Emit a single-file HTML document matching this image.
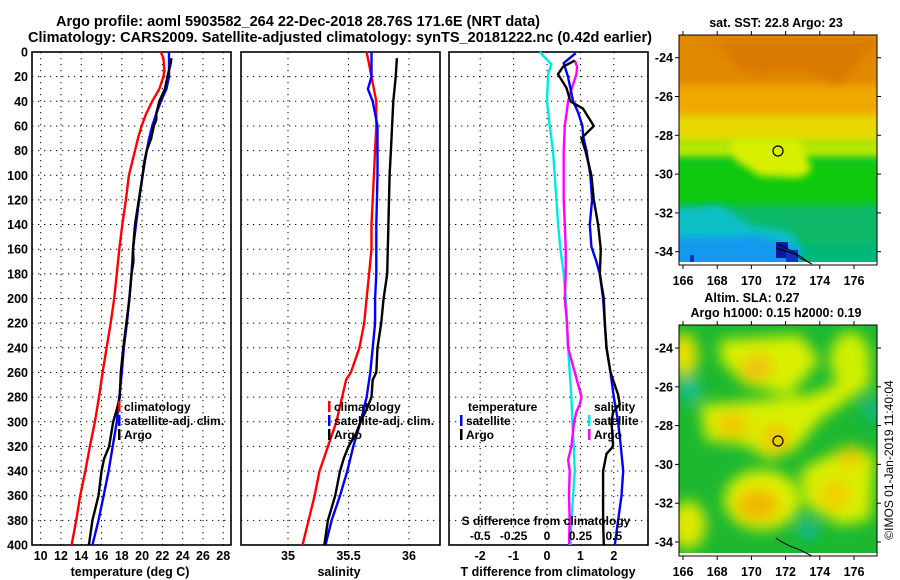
<!DOCTYPE html>
<html><head><meta charset="utf-8">
<style>
html,body{margin:0;padding:0;background:#fff;}
svg{display:block;font-family:"Liberation Sans",sans-serif;font-weight:bold;}
</style></head>
<body>
<svg id="fig" width="900" height="580" viewBox="0 0 900 580" xmlns="http://www.w3.org/2000/svg">
<defs>
<filter id="blur6" x="-30%" y="-30%" width="160%" height="160%"><feGaussianBlur stdDeviation="7"/></filter>
<filter id="blur3" x="-10%" y="-30%" width="120%" height="160%"><feGaussianBlur stdDeviation="4"/></filter>
<clipPath id="clipTop"><rect x="679" y="35" width="198" height="230"/></clipPath>
<clipPath id="clipBot"><rect x="679" y="325" width="198" height="231"/></clipPath>
</defs>
<text x="56" y="26" font-size="14.5" textLength="484" lengthAdjust="spacingAndGlyphs">Argo profile: aoml 5903582_264 22-Dec-2018 28.76S 171.6E (NRT data)</text>
<text x="28" y="42" font-size="14.5" textLength="624" lengthAdjust="spacingAndGlyphs">Climatology: CARS2009. Satellite-adjusted climatology: synTS_20181222.nc (0.42d earlier)</text>

<!-- top map -->
<g clip-path="url(#clipTop)">
  <rect x="679" y="35" width="198" height="230" fill="#00b878"/>
  <rect x="660" y="20" width="240" height="80" fill="#e08a00"/>
  <rect x="660" y="85" width="240" height="40" fill="#f0a800" filter="url(#blur3)"/>
  <rect x="660" y="115" width="240" height="30" fill="#e8d800" filter="url(#blur3)"/>
  <rect x="660" y="140" width="240" height="20" fill="#b8e800" filter="url(#blur3)"/>
  <rect x="660" y="158" width="240" height="55" fill="#10c810" filter="url(#blur3)"/>
  <path d="M730,140 L800,140 L812,170 L800,178 L760,176 L735,160 Z" fill="#d8f000" filter="url(#blur3)"/>
  <rect x="660" y="205" width="240" height="40" fill="#08b868" filter="url(#blur3)"/>
  <path d="M670,210 L720,205 L750,225 L790,232 L800,245 L800,275 L670,275 Z" fill="#10c0c8" filter="url(#blur3)"/>
  <path d="M670,238 L760,236 L800,248 L800,275 L670,275 Z" fill="#1898f0" filter="url(#blur3)"/>
  <path d="M690,40 L720,45 L740,70 L760,75 L800,70 L840,85 L860,60 L880,40 Z" fill="#d87000" opacity="0.6" filter="url(#blur3)"/>
  <rect x="776" y="242" width="12" height="16" fill="#0818a0"/>
  <rect x="786" y="250" width="12" height="12" fill="#1030c0"/>
  <rect x="690" y="255" width="4" height="8" fill="#1030c0"/>
  <rect x="679" y="262" width="198" height="3" fill="#fff"/>
  <path d="M776,248 C785,252 795,252 800,258 L812,264" fill="none" stroke="#000" stroke-width="1"/>
  <path d="M778,244 C790,250 800,255 808,262" fill="none" stroke="#000" stroke-width="0.8"/>
</g>
<circle cx="778" cy="151" r="5" fill="none" stroke="#000" stroke-width="1.2"/>
<rect x="679" y="35" width="198" height="230" fill="none" stroke="#000" stroke-width="1"/>
<text x="776" y="27" font-size="12.5" text-anchor="middle">sat. SST: 22.8 Argo: 23</text>

<!-- bottom map -->
<g clip-path="url(#clipBot)">
  <rect x="679" y="325" width="198" height="231" fill="#1cb830"/>
  <g filter="url(#blur6)">
    <path d="M720,340 L800,335 L820,360 L790,395 L745,385 L720,360 Z" fill="#d8f000"/>
    <ellipse cx="757" cy="368" rx="16" ry="13" fill="#f0c010"/>
    <ellipse cx="684" cy="355" rx="14" ry="22" fill="#e8e000"/>
    <path d="M700,405 L760,400 L810,395 L845,380 L870,360 L870,385 L820,420 L795,450 L770,460 L745,445 L705,440 Z" fill="#d8f000"/>
    <ellipse cx="733" cy="425" rx="18" ry="12" fill="#f0c800"/>
    <ellipse cx="776" cy="438" rx="15" ry="15" fill="#f0c800"/>
    <ellipse cx="762" cy="500" rx="38" ry="30" fill="#e0f000"/>
    <ellipse cx="758" cy="505" rx="22" ry="16" fill="#f0b800"/>
    <path d="M800,470 L850,445 L875,455 L870,520 L840,525 L805,505 Z" fill="#d8f000"/>
    <ellipse cx="850" cy="458" rx="13" ry="10" fill="#f0c800"/>
    <ellipse cx="835" cy="495" rx="16" ry="16" fill="#f0d000"/>
    <ellipse cx="850" cy="360" rx="20" ry="28" fill="#d0f000"/>
    <ellipse cx="688" cy="525" rx="18" ry="24" fill="#e0e800"/>
    <ellipse cx="690" cy="390" rx="10" ry="12" fill="#10c0a0"/>
    <ellipse cx="808" cy="530" rx="10" ry="10" fill="#10b8a0"/>
    <ellipse cx="872" cy="410" rx="8" ry="14" fill="#10b890"/>
  </g>
  <rect x="679" y="553" width="198" height="3" fill="#fff"/>
  <path d="M776,538 C785,545 795,548 800,550 L812,556" fill="none" stroke="#000" stroke-width="1"/>
</g>
<circle cx="778" cy="441" r="5" fill="none" stroke="#000" stroke-width="1.2"/>
<rect x="679" y="325" width="198" height="231" fill="none" stroke="#000" stroke-width="1"/>
<text x="752" y="302" font-size="12.5" text-anchor="middle">Altim. SLA: 0.27</text>
<text x="776" y="317" font-size="12.5" text-anchor="middle">Argo h1000: 0.15 h2000: 0.19</text>
<text x="0" y="0" font-size="12" font-weight="normal" text-anchor="middle" transform="translate(893,460) rotate(-90)">©IMOS 01-Jan-2019 11:40:04</text>
<g id="plots"></g>
</svg>
<script>
// ---------- data ----------
const depthTicks = [0,20,40,60,80,100,120,140,160,180,200,220,240,260,280,300,320,340,360,380,400];
const tempTicks = [10,12,14,16,18,20,22,24,26,28];
const salTicks = [35,35.5,36];
const tdiffTicks = [-2,-1,0,1,2];
const sdiffTicks = [-0.5,-0.25,0,0.25,0.5];
const lonTicks = [166,168,170,172,174,176];
const latTicks = [-24,-26,-28,-30,-32,-34];

const climTDepth = [0,5,15,20,30,40,50,60,70,80,90,100,120,140,160,180,200,220,240,260,280,300,320,340,360,380,400];
const climT = [21.83,22.1,22.2,22.1,21.7,21.0,20.4,19.95,19.6,19.3,19.0,18.7,18.4,18.05,17.75,17.5,17.25,16.9,16.5,16.1,15.75,15.35,14.85,14.4,13.9,13.5,13.05];
const satTDepth = [0,20,30,40,50,60,70,80,100,120,140,160,180,200,220,240,260,280,300,320,340,360,380,400];
const satT = [22.65,22.65,22.4,21.85,21.4,21.0,20.7,20.45,20.05,19.7,19.4,19.1,18.95,18.75,18.5,18.2,18.0,17.75,17.5,17.1,16.7,16.2,15.7,15.1];
const argoTDepth = [5,10,20,30,40,50,55,60,70,80,90,100,140,160,170,180,200,240,260,280,290,300,320,330,340,360,380,400];
const argoT = [22.9,22.8,22.5,22.25,21.7,21.4,21.4,21.15,20.9,20.45,20.2,20.05,19.3,19.1,19.15,18.95,18.75,18.15,17.9,17.8,17.5,17.15,16.75,16.25,16.0,15.7,15.1,14.75];

const climSDepth = [0,10,20,40,60,80,100,120,140,160,180,200,220,240,260,266,300,340,360,380,400];
const climS = [35.65,35.67,35.69,35.73,35.73,35.72,35.71,35.70,35.69,35.69,35.67,35.65,35.63,35.59,35.52,35.48,35.40,35.26,35.22,35.17,35.12];
const satSDepth = [0,20,30,40,60,100,140,180,200,220,240,260,280,300,320,340,360,380,400];
const satS = [35.69,35.69,35.66,35.70,35.74,35.74,35.73,35.73,35.72,35.72,35.70,35.68,35.65,35.60,35.54,35.49,35.43,35.36,35.31];
const argoSDepth = [5,20,40,60,80,100,140,180,200,220,240,260,266,280,290,300,310,320,330,340,360,380,400];
const argoS = [35.90,35.89,35.87,35.86,35.85,35.84,35.83,35.82,35.79,35.77,35.74,35.73,35.70,35.69,35.65,35.60,35.56,35.50,35.46,35.43,35.39,35.33,35.30];

const dSatTDepth = [1,9,20,40,49,60,68,80,100,120,140,158,170,180,200,220,240,260,280,300,320,340,360,380,400];
const dSatT = [0.86,0.5,0.63,0.78,0.93,1.06,1.08,1.18,1.3,1.35,1.28,1.33,1.48,1.58,1.68,1.73,1.78,1.9,2.0,2.13,2.21,2.28,2.23,2.13,2.03];
const dArgoTDepth = [7,12,18,29,40,46,60,70,80,100,120,140,160,180,200,220,240,260,278,286,292,300,320,326,340,360,380,400];
const dArgoT = [0.83,0.48,0.33,0.58,0.7,1.08,1.4,1.03,1.15,1.33,1.4,1.53,1.61,1.58,1.7,1.73,1.78,1.9,2.13,2.18,1.98,1.93,1.98,1.78,1.68,1.68,1.68,1.7];
const dSatSDepth = [0,10,18,40,60,80,100,120,140,160,180,200,220,240,260,280,300,320,340,360,380,400];
const dSatS = [-0.055,0.033,0.008,0,0.02,0.045,0.058,0.07,0.083,0.1,0.125,0.14,0.15,0.158,0.17,0.183,0.19,0.2,0.208,0.195,0.183,0.175];
const dArgoSDepth = [7,12,18,32,40,60,80,100,120,140,160,180,200,220,240,260,280,286,292,300,320,331,340,360,380,400];
const dArgoS = [0.208,0.225,0.22,0.178,0.158,0.133,0.125,0.125,0.125,0.133,0.14,0.14,0.133,0.15,0.158,0.208,0.258,0.245,0.22,0.203,0.183,0.158,0.17,0.165,0.17,0.165];

// ---------- geometry ----------
const NS='http://www.w3.org/2000/svg';
const root=document.getElementById('plots');
const Y0=52, Y1=545;
function yD(d){return Y0+(Y1-Y0)*d/400;}
const P1={x0:32,x1:231}, P2={x0:241,x1:440}, P3={x0:449,x1:648};
function xT(t){return 40.7+(t-10)*10.14;}
function xS(s){return 288+(s-35)*121;}
function xDT(t){return 547+t*33.4;}
function xDS(s){return xDT(s*4);}
function mk(tag,attrs,parent){const e=document.createElementNS(NS,tag);for(const k in attrs)e.setAttribute(k,attrs[k]);(parent||root).appendChild(e);return e;}
function txt(s,x,y,size,anchor,parent){const t=mk('text',{x:x,y:y,'font-size':size,'text-anchor':anchor||'middle'},parent);t.textContent=s;return t;}

function panel(P,name,xs,ticks,xf,labFn){
  const g=mk('g',{});
  
  
  depthTicks.slice(1,-1).forEach(d=>{
    const l=mk('line',{x1:P.x0,x2:P.x1,y1:yD(d),y2:yD(d),stroke:'#000','stroke-width':1,'stroke-dasharray':'1.3,4.7'},g);
    
    
  });
  ticks.forEach(v=>{
    const x=xf(v);
    const l=mk('line',{x1:x,x2:x,y1:Y0,y2:Y1,stroke:'#000','stroke-width':1,'stroke-dasharray':'1.3,4.7'},g);
    
    
    const t=txt(labFn?labFn(v):String(v),x,560,12.5,'middle',g);
    
    
  });
  const f=mk('rect',{x:P.x0,y:Y0,width:P.x1-P.x0,height:Y1-Y0,fill:'none',stroke:'#000','stroke-width':1.6},g);
  
  
  return g;
}
function series(name,depths,vals,xf,color,g){
  const pts=depths.map((d,i)=>xf(vals[i]).toFixed(1)+','+yD(d).toFixed(1)).join(' ');
  const p=mk('polyline',{points:pts,fill:'none',stroke:color,'stroke-width':2.4,'stroke-linejoin':'round'},g);
  
  
}
function legendEntry(name,x,y,color,label,g){
  const r=mk('rect',{x:x,y:y-10,width:2.5,height:11,fill:color},g);
  
  
  const t=txt(label,x+6,y,12,'start',g);
  
  
}

depthTicks.forEach(d=>{
  const t=txt(String(d),28,yD(d)+4.5,12.5,'end');
  
  
});

const g1=panel(P1,'temperature-panel',null,tempTicks,xT);
series('temp-climatology-line',climTDepth,climT,xT,'#ff0000',g1);
series('temp-satellite-line',satTDepth,satT,xT,'#0000ff',g1);
series('temp-argo-line',argoTDepth,argoT,xT,'#000000',g1);
legendEntry('legend-climatology',118,411,'#ff0000','climatology',g1);
legendEntry('legend-satellite-adj',118,425,'#0000ff','satellite-adj. clim.',g1);
legendEntry('legend-argo',118,439,'#000000','Argo',g1);
let t1=txt('temperature (deg C)',130,576,12.5);



const g2=panel(P2,'salinity-panel',null,salTicks,xS);
series('sal-climatology-line',climSDepth,climS,xS,'#ff0000',g2);
series('sal-satellite-line',satSDepth,satS,xS,'#0000ff',g2);
series('sal-argo-line',argoSDepth,argoS,xS,'#000000',g2);
legendEntry('legend-sal-climatology',328,411,'#ff0000','climatology',g2);
legendEntry('legend-sal-satellite-adj',328,425,'#0000ff','satellite-adj. clim.',g2);
legendEntry('legend-sal-argo',328,439,'#000000','Argo',g2);
let t2=txt('salinity',339,576,12.5);



const g3=panel(P3,'difference-panel',null,tdiffTicks,xDT);
series('sdiff-satellite-line',dSatSDepth,dSatS,xDS,'#00e8e8',g3);
series('sdiff-argo-line',dArgoSDepth,dArgoS,xDS,'#ff00ff',g3);
series('tdiff-satellite-line',dSatTDepth,dSatT,xDT,'#0000ff',g3);
series('tdiff-argo-line',dArgoTDepth,dArgoT,xDT,'#000000',g3);
let lt=txt('temperature',468,411,12,'start',g3);


legendEntry('legend-tdiff-satellite',460,425,'#0000ff','satellite',g3);
legendEntry('legend-tdiff-argo',460,439,'#000000','Argo',g3);
let ls=txt('salinity',594,411,12,'start',g3);


legendEntry('legend-sdiff-satellite',588,425,'#00e8e8','satellite',g3);
legendEntry('legend-sdiff-argo',588,439,'#ff00ff','Argo',g3);
let st=txt('S difference from climatology',546,525,12,'middle',g3);


sdiffTicks.forEach(v=>{
  const t=txt(String(v),xDS(v),540,12,'middle',g3);
  
  
});
let t3=txt('T difference from climatology',548,576,12.5);



function mapAxes(top,bottom,latTop,name){
  const lx=lon=>683+(lon-166)*17.1;
  const ly=lat=>latTop+(-24-lat)*19.4;
  lonTicks.forEach(lon=>{
    const x=lx(lon);
    mk('line',{x1:x,x2:x,y1:top-4,y2:top,stroke:'#000'});
    mk('line',{x1:x,x2:x,y1:bottom,y2:bottom+4,stroke:'#000'});
    const t=txt(String(lon),x,bottom+20,12.5);
    
    
  });
  latTicks.forEach(lat=>{
    const y=ly(lat);
    mk('line',{x1:675,x2:679,y1:y,y2:y,stroke:'#000'});
    mk('line',{x1:877,x2:881,y1:y,y2:y,stroke:'#000'});
    const t=txt(String(lat),673,y+4.5,12.5,'end');
    
    
  });
}
mapAxes(35,265,57.7,'sst-map');
mapAxes(325,556,348,'sla-map');
</script>
</body></html>
